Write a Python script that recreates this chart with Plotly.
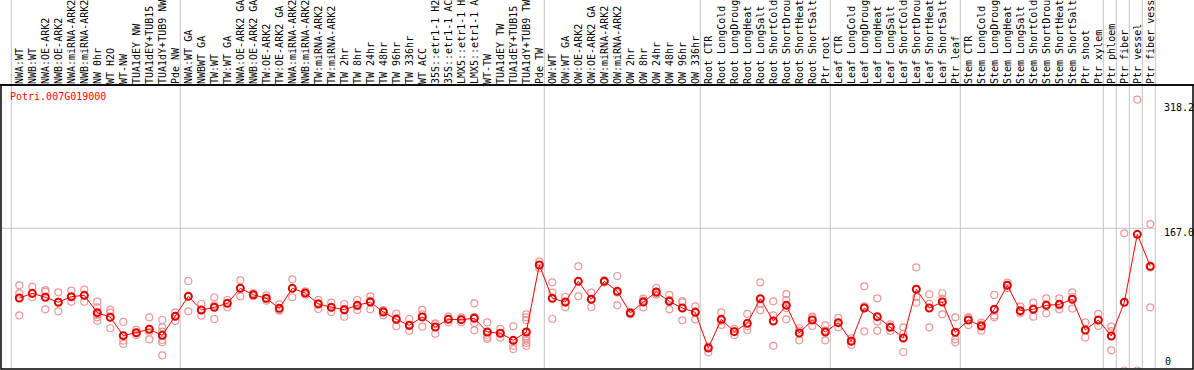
import plotly.graph_objects as go

gene_id = "Potri.007G019000"

labels = [
    "NWA:WT", "NWB:WT", "NWA:OE-ARK2", "NWB:OE-ARK2", "NWA:miRNA-ARK2", "NWB:miRNA-ARK2",
    "NW 0hr", "WT H2O", "WT-NW", "TUA1dEY NW", "TUA1dEY+TUB15 NW", "TUA1dY+TUB9 NW", "Pde NW",
    "NWA:WT GA", "NWBWT GA", "TW:WT", "TW:WT GA", "NWA:OE-ARK2 GA", "NWB:OE-ARK2 GA",
    "TW:OE-ARK2", "TW:OE-ARK2 GA", "NWA:miRNA-ARK2", "NWB:miRNA-ARK2", "TW:miRNA-ARK2",
    "TW:miRNA-ARK2", "TW 2hr", "TW 8hr", "TW 24hr", "TW 48hr", "TW 96hr", "TW 336hr",
    "WT ACC", "35S::etr1-1 H2O", "35S::etr1-1 ACC", "LMX5::etr1-1 H2O", "LMX5::etr1-1 ACC",
    "WT-TW", "TUA1dEY TW", "TUA1dEY+TUB15 TW", "TUA1dY+TUB9 TW", "Pde TW",
    "OW:WT", "OW:WT GA", "OW:OE-ARK2", "OW:OE-ARK2 GA", "OW:miRNA-ARK2", "OW:miRNA-ARK2",
    "OW 2hr", "OW 8hr", "OW 24hr", "OW 48hr", "OW 96hr", "OW 336hr",
    "Root CTR", "Root LongCold", "Root LongDrought", "Root LongHeat", "Root LongSalt",
    "Root ShortCold", "Root ShortDrought", "Root ShortHeat", "Root ShortSalt", "Ptr root",
    "Leaf CTR", "Leaf LongCold", "Leaf LongDrought", "Leaf LongHeat", "Leaf LongSalt",
    "Leaf ShortCold", "Leaf ShortDrought", "Leaf ShortHeat", "Leaf ShortSalt", "Ptr leaf",
    "Stem CTR", "Stem LongCold", "Stem LongDrought", "Stem LongHeat", "Stem LongSalt",
    "Stem ShortCold", "Stem ShortDrought", "Stem ShortHeat", "Stem ShortSalt", "Ptr shoot",
    "Ptr xylem", "Ptr phloem", "Ptr fiber", "Ptr vessel", "Ptr fiber vessel",
]

mean_values = [
    85.1, 90.6, 86.0, 80.1, 86.7, 88.3, 67.9, 62.5, 40.9, 44.4, 48.4, 41.3, 63.6,
    87.1, 71.1, 74.2, 78.9, 96.5, 89.0, 84.8, 73.0, 96.5, 91.0, 78.1, 74.2, 71.4, 76.5,
    80.4, 68.7, 60.1, 53.1, 62.8, 51.1, 60.1, 59.7, 61.3, 45.2, 43.7, 35.4, 45.2, 123.9,
    84.8, 80.4, 104.7, 83.6, 104.7, 93.0, 67.5, 80.4, 92.2, 81.2, 73.4, 68.3,
    26.4, 60.1, 45.6, 55.4, 84.3, 58.1, 76.5, 44.0, 59.3, 45.2,
    56.2, 34.3, 73.4, 63.2, 50.7, 38.2, 95.4, 73.4, 80.4, 44.9,
    59.3, 52.3, 71.9, 100.0, 70.3, 71.9, 76.5, 77.7, 83.6, 47.6, 59.3,
    40.5, 80.1, 159.9, 122.4,
]

replicate_values = [
    [100.0, 90.5, 64.8], [98.1, 90.0, 86.0], [94.5, 92.6, 71.9], [91.8, 80.5, 69.5],
    [93.7, 86.0, 80.8], [94.9, 88.0, 80.8], [80.8, 74.2, 65.2, 62.5, 58.5],
    [71.1, 67.9, 49.6], [57.0, 35.0, 31.1], [47.6, 44.0, 41.7], [62.5, 45.5, 36.6],
    [59.3, 50.7, 45.6, 35.8, 33.1, 17.8], [68.3, 63.6, 58.1],
    [105.1, 87.0, 69.5], [78.1, 71.0, 64.4], [86.0, 76.5, 60.5], [82.8, 79.0, 74.2],
    [105.9, 96.5, 87.1], [91.0, 89.0, 87.5], [88.3, 84.0, 82.0], [77.7, 71.0, 70.3],
    [107.1, 96.5, 86.0], [93.0, 91.0, 89.0], [82.8, 79.0, 72.2], [79.7, 74.2, 68.7],
    [78.1, 72.5, 63.2], [82.8, 75.5, 71.1], [87.1, 82.0, 71.9], [71.0, 70.0, 64.8],
    [66.7, 61.5, 51.9], [60.5, 52.0, 46.8], [71.1, 65.8, 51.5], [55.4, 54.5, 43.2],
    [63.2, 60.5, 56.6], [62.5, 60.0, 56.6], [78.9, 63.0, 55.8, 47.2],
    [56.6, 42.0, 39.0, 37.0], [48.8, 43.7, 38.6], [51.9, 35.0, 29.2, 25.2],
    [66.0, 62.5, 59.3, 40.0, 37.8, 35.0, 32.2, 29.0], [127.8, 124.0, 120.0],
    [103.6, 91.4, 60.5], [86.3, 80.0, 74.2], [122.3, 104.7, 87.1], [91.4, 84.0, 74.6],
    [106.0, 104.7, 103.5], [111.0, 91.5, 76.5], [69.0, 67.5, 66.0], [84.3, 82.0, 74.2],
    [96.9, 90.5, 89.0], [88.7, 83.0, 71.9], [81.6, 80.0, 58.9], [75.4, 69.5, 60.1],
    [28.0, 26.4, 21.3], [68.3, 58.5, 53.5], [48.8, 46.3, 41.7], [66.4, 52.2, 47.6],
    [103.6, 78.6, 70.7], [81.2, 64.8, 58.1, 29.0], [89.8, 82.8, 73.3, 60.1],
    [49.6, 47.0, 35.4], [63.2, 62.4, 52.3], [53.1, 47.1, 35.4],
    [61.7, 56.2, 50.7], [37.8, 35.2, 29.9], [98.9, 75.3, 46.0], [84.8, 57.4, 46.8],
    [54.2, 51.5, 46.4], [50.7, 42.9, 21.7], [121.2, 86.0, 79.6], [89.5, 78.3, 50.7],
    [90.7, 84.5, 66.0], [62.5, 44.9, 36.6, 33.1],
    [62.5, 62.0, 53.4], [56.2, 54.0, 46.8], [88.7, 64.5, 62.5], [103.2, 100.0, 96.8],
    [75.0, 68.8, 67.1], [79.6, 73.0, 63.2], [84.8, 77.6, 67.1], [84.8, 76.4, 71.9],
    [91.8, 86.3, 72.7], [56.6, 47.3, 38.9], [66.4, 59.2, 52.3],
    [51.5, 46.3, 23.7], [161.1, 0.0], [318.2, 0.0], [172.0, 121.0, 74.2],
]

# columns after which a group separator is drawn
group_ends = [0, 13, 41, 53, 63, 73, 84, 85, 86, 87, 88]

scale_values = [318.2, 167.0, 0.0]
scale_labels = ["318.2", "167.0", "0"]

x_pos = list(range(1, len(labels) + 1))
rep_x = [x for x, reps in zip(x_pos, replicate_values) for _ in reps]
rep_y = [v for reps in replicate_values for v in reps]

MONO = "DejaVu Sans Mono"
GRAY = "#c4c4c4"
X_MIN, X_MAX = -0.4077, 91.285
Y_MIN, Y_MAX = 1.76, 335.3

fig = go.Figure()

fig.add_trace(go.Scatter(
    x=rep_x, y=rep_y, mode="markers",
    marker=dict(symbol="circle-open", size=7, color="rgb(238,150,150)", line=dict(width=1.2)),
    hoverinfo="skip", showlegend=False,
))
fig.add_trace(go.Scatter(
    x=x_pos, y=mean_values, mode="lines+markers",
    line=dict(color="#ff0000", width=1),
    marker=dict(symbol="circle-open", size=7, color="#e00000", line=dict(width=2)),
    showlegend=False,
))

shapes = []
for k in group_ends:
    shapes.append(dict(type="line", xref="x", yref="paper", x0=k + 0.385, x1=k + 0.385,
                       y0=0, y1=1.31, line=dict(color=GRAY, width=1), layer="below"))
# horizontal guide at 167.0
shapes.append(dict(type="line", xref="x", yref="y", x0=X_MIN, x1=group_ends[-1] + 0.385,
                   y0=scale_values[1], y1=scale_values[1], line=dict(color=GRAY, width=1),
                   layer="below"))
# frame
shapes.append(dict(type="rect", xref="paper", yref="paper", x0=0, x1=1, y0=0, y1=1,
                   line=dict(color="black", width=1.5), layer="above"))
shapes.append(dict(type="line", xref="paper", yref="paper", x0=-0.002, x1=1.002, y0=1, y1=1,
                   line=dict(color="black", width=1.5), layer="above"))

annotations = [dict(text=gene_id, xref="paper", yref="paper", x=0.0067, y=0.958,
                    xanchor="left", yanchor="middle", showarrow=False, borderpad=0,
                    font=dict(family=MONO, size=10, color="#ff0000"))]
label_y = [0.920, 0.480, 0.0257]
label_x = [0.9748, 0.9748, 0.9757]
for txt, yy, xx in zip(scale_labels, label_y, label_x):
    annotations.append(dict(text=txt, xref="paper", yref="paper", x=xx, y=yy,
                            xanchor="left", yanchor="middle", showarrow=False, borderpad=0,
                            font=dict(family=MONO, size=10, color="black")))

fig.update_layout(
    width=1194, height=370,
    margin=dict(l=1, r=1, t=85, b=1, pad=0),
    paper_bgcolor="white", plot_bgcolor="white",
    shapes=shapes, annotations=annotations,
    xaxis=dict(range=[X_MIN, X_MAX], side="top", tickmode="array", tickvals=x_pos,
               ticktext=labels, tickangle=-90, ticks="", showgrid=False, zeroline=False,
               showline=False, automargin=False,
               tickfont=dict(family=MONO, size=10, color="black"), fixedrange=True),
    yaxis=dict(range=[Y_MIN, Y_MAX], showticklabels=False, showgrid=False, zeroline=False,
               showline=False, ticks="", fixedrange=True),
)

fig.write_html(
    "out.html",
    config={"displayModeBar": False},
    post_script="document.body.style.margin='0';document.body.style.overflow='hidden';",
)
